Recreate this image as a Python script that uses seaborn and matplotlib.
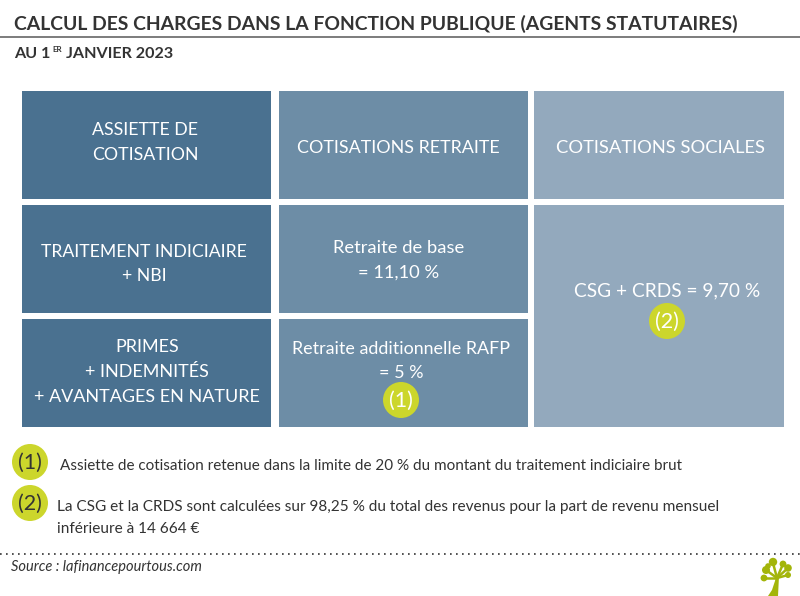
import matplotlib
matplotlib.use("Agg")
import matplotlib.pyplot as plt
from matplotlib.patches import Rectangle, Circle, Polygon
import seaborn as sbn

TITLE = "CALCUL DES CHARGES DANS LA FONCTION PUBLIQUE (AGENTS STATUTAIRES)"
SUB_A, SUB_B, SUB_C = "AU 1", "ER", "JANVIER 2023"
HEADERS = ["ASSIETTE DE\nCOTISATION", "COTISATIONS RETRAITE", "COTISATIONS SOCIALES"]
ROW_BASE = ["TRAITEMENT INDICIAIRE\n+ NBI", "Retraite de base\n= 11,10 %"]
ROW_PRIMES = ["PRIMES\n+ INDEMNITÉS\n+ AVANTAGES EN NATURE", "Retraite additionnelle RAFP\n= 5 %"]
SOCIAL = "CSG + CRDS = 9,70 %"
MARKS = ["(1)", "(2)"]
NOTE_1 = "Assiette de cotisation retenue dans la limite de 20 % du montant du traitement indiciaire brut"
NOTE_2 = "La CSG et la CRDS sont calculées sur 98,25 % du total des revenus pour la part de revenu mensuel\ninférieure à 14 664 €"
SOURCE = "Source : lafinancepourtous.com"

DARK, MID, LIGHT = "#4a7190", "#6d8da6", "#93a9bd"
LIME = "#ccd62c"
TEXT = "#333333"

sbn.set_theme(style="white")
plt.rcParams["font.family"] = ["Lato", "DejaVu Sans"]

fig = plt.figure(figsize=(8, 5.96), dpi=100)
ax = fig.add_axes([0, 0, 1, 1])
ax.set_xlim(0, 800)
ax.set_ylim(596, 0)
ax.axis("off")
sbn.despine(ax=ax, left=True, bottom=True)


def box(x0, y0, x1, y1, color):
    ax.add_patch(Rectangle((x0, y0), x1 - x0, y1 - y0, fc=color, ec="none"))


def label(x, y, s, size=12.8, color="white", ha="center", **kw):
    ax.text(x, y, s, fontsize=size, color=color, ha=ha, va="center",
            linespacing=1.66, **kw)


def badge(x, y, s, color):
    ax.add_patch(Circle((x, y), 18, fc=LIME, ec="none"))
    label(x, y + 0.5, s, size=15.5, color=color)


# title block
ax.text(14, 24, TITLE, fontsize=13.95, fontweight="bold", color=TEXT, va="center")
ax.plot([0, 800], [37, 37], color="#666666", lw=1.2)
ax.text(14, 53.5, SUB_A, fontsize=11.6, fontweight="bold", color=TEXT, va="center")
ax.text(52, 49.5, SUB_B, fontsize=5.8, fontweight="bold", color=TEXT, va="center")
ax.text(66, 53.5, SUB_C, fontsize=11.6, fontweight="bold", color=TEXT, va="center")

# grid of boxes
box(22, 91, 271, 199, DARK)
box(279, 91, 528, 199, MID)
box(534, 91, 784, 199, LIGHT)
box(22, 205, 271, 313, DARK)
box(279, 205, 528, 313, MID)
box(22, 319, 271, 427, DARK)
box(279, 319, 528, 427, MID)
box(534, 205, 784, 427, LIGHT)

label(145, 142.5, HEADERS[0])
label(398, 148, HEADERS[1], size=12.9)
label(661, 148, HEADERS[2], size=13.2)
label(144, 264, ROW_BASE[0], size=12.7)
label(399, 260, ROW_BASE[1], size=13.2)
label(147, 372, ROW_PRIMES[0], size=13)
label(401, 361, ROW_PRIMES[1], size=12.9)
label(667, 291, SOCIAL, size=13.8)
badge(401, 400, MARKS[0], "white")
badge(667, 321, MARKS[1], "white")

# footnotes
badge(30, 462, MARKS[0], TEXT)
badge(30, 503, MARKS[1], TEXT)
label(60, 466, NOTE_1, size=10.95, color=TEXT, ha="left")
ax.text(57, 518, NOTE_2, fontsize=11.05, color=TEXT, va="center", linespacing=1.65)

ax.plot([0, 800], [554, 554], color="#333333", lw=1.2, ls=(0, (1, 2.6)))
label(11, 567.5, SOURCE, size=10.5, color=TEXT, ha="left", style="italic")

# tree logo
GREEN = "#a3b50a"
ax.add_patch(Polygon([(768, 596), (772, 590), (775, 581), (776, 576), (779, 576), (778, 596)],
                     fc=GREEN, ec="none"))
for (x1, y1) in [(764, 578), (766, 570), (773, 563), (783, 564), (788, 568), (788, 575)]:
    ax.plot([777, x1], [578, y1], color=GREEN, lw=1.8, solid_capstyle="round")
for (x, y, r) in [(764, 578, 3.4), (766, 570, 4), (773, 562, 4.2), (768, 566, 2.8),
                  (783, 564, 3.4), (788, 568, 3.8), (788, 575, 3)]:
    ax.add_patch(Circle((x, y), r, fc=GREEN, ec="none"))

fig.savefig("out.png", dpi=100)
